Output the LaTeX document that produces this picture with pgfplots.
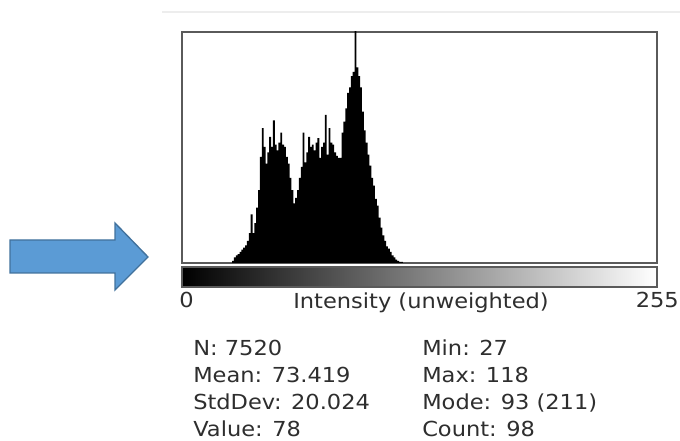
\documentclass[border=0pt]{standalone}
\usepackage{pgfplots}
\pgfplotsset{compat=1.18}
\usepackage{fontspec}
\setmainfont{DejaVu Sans}
\definecolor{arrowfill}{HTML}{5B9BD5}
\definecolor{arrowdraw}{HTML}{41719C}
\definecolor{framec}{HTML}{5A5A5A}
\definecolor{txt}{HTML}{2E2E2E}
\newcommand{\stat}[1]{\scalebox{1.09}[1]{\fontsize{15.5}{18}\selectfont #1}}
\begin{document}
\begin{tikzpicture}[x=0.75pt,y=0.75pt]
\path[use as bounding box] (0,0) rectangle (680,441);
\coordinate (SW) at (182,178);
% faint window line
\draw[black!7, line width=1.5pt] (162,429) -- (680,429);
% arrow
\draw[fill=arrowfill, draw=arrowdraw, line width=1pt, line join=miter]
  (10,201) -- (115,201) -- (115,218) -- (148,184) -- (115,151) -- (115,168) -- (10,168) -- cycle;
\begin{axis}[
  at={(SW)}, anchor=south west,
  scale only axis, width=356.25pt, height=173.25pt,
  xmin=-0.5, xmax=255.5, ymin=0, ymax=209,
  xtick=\empty, ytick=\empty,
  axis line style={draw=framec, line width=1.3pt},
  clip=true,
]
\addplot[ybar, bar width=1, fill=black, draw=none] coordinates {
(27,2) (28,5) (29,7) (30,8) (31,10) (32,12) (33,14) (34,16) (35,20) (36,27)
(37,44) (38,27) (39,36) (40,50) (41,66) (42,96) (43,122) (44,105) (45,90) (46,100)
(47,114) (48,105) (49,129) (50,107) (51,102) (52,109) (53,118) (54,107) (55,105) (56,96)
(57,90) (58,77) (59,66) (60,54) (61,59) (62,66) (63,77) (64,87) (65,118) (66,91)
(67,100) (68,114) (69,105) (70,107) (71,102) (72,109) (73,113) (74,95) (75,105) (76,109)
(77,134) (78,98) (79,122) (80,109) (81,107) (82,100) (83,97) (84,95) (85,95) (86,118)
(87,128) (88,140) (89,154) (90,159) (91,169) (92,173) (93,211) (94,177) (95,169) (96,159)
(97,137) (98,120) (99,109) (100,98) (101,88) (102,77) (103,70) (104,58) (105,52) (106,41)
(107,32) (108,25) (109,20) (110,15) (111,13) (112,10) (113,7) (114,5) (115,3) (116,2)
(117,1) (118,1)
};
\end{axis}
% gradient bar
\shade[left color=black, right color=white] (182,154) rectangle (657,174);
\draw[framec, line width=1.3pt] (182,154) rectangle (657,174);
% axis labels
\node[anchor=base west, inner sep=0pt, text=txt] at (179,133) {\stat{0}};
\node[anchor=base, inner sep=0pt, text=txt] at (421,132) {\stat{Intensity (unweighted)}};
\node[anchor=base east, inner sep=0pt, text=txt] at (679,133) {\stat{255}};
% stats
\node[anchor=base west, inner sep=0pt, text=txt] at (193,85) {\stat{N: 7520}};
\node[anchor=base west, inner sep=0pt, text=txt] at (193,58) {\stat{Mean: 73.419}};
\node[anchor=base west, inner sep=0pt, text=txt] at (193,31) {\stat{StdDev: 20.024}};
\node[anchor=base west, inner sep=0pt, text=txt] at (193,4) {\stat{Value: 78}};
\node[anchor=base west, inner sep=0pt, text=txt] at (422,85) {\stat{Min: 27}};
\node[anchor=base west, inner sep=0pt, text=txt] at (422,58) {\stat{Max: 118}};
\node[anchor=base west, inner sep=0pt, text=txt] at (422,31) {\stat{Mode: 93 (211)}};
\node[anchor=base west, inner sep=0pt, text=txt] at (422,4) {\stat{Count: 98}};
\end{tikzpicture}
\end{document}
